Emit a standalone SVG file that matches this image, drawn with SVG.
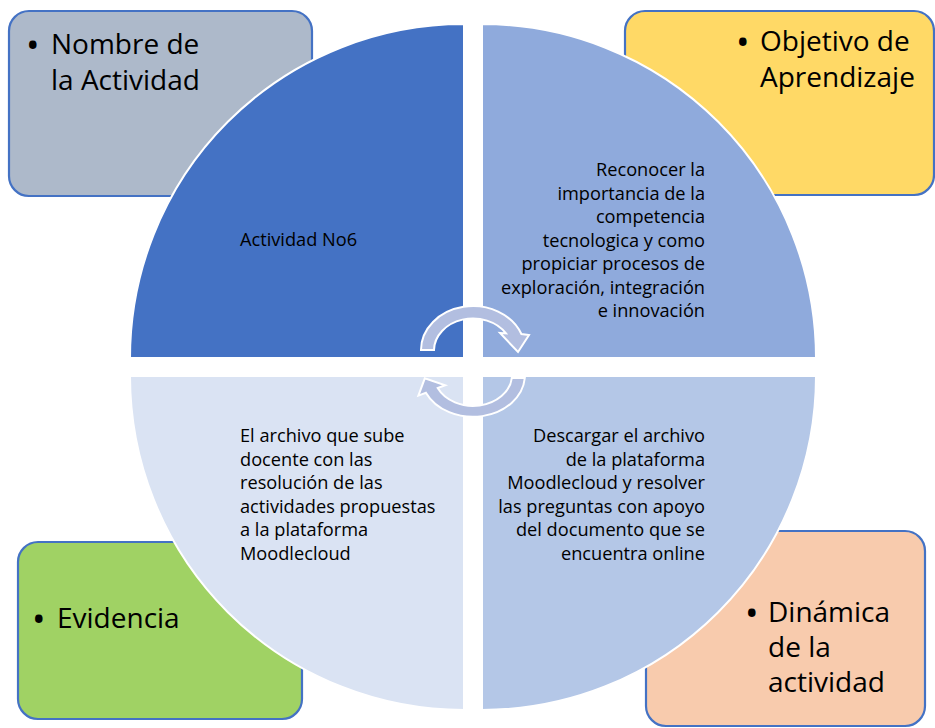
<svg xmlns="http://www.w3.org/2000/svg" width="935" height="728" viewBox="0 0 935 728">
<style>
.box{stroke:#4472C4;stroke-width:2.2}
.quad{stroke:#FFFFFF;stroke-width:2}
.big{font-family:"Open Sans","Noto Sans","Liberation Sans",sans-serif;font-size:28px;fill:#000}
.bul{font-size:36px}
.small{font-family:"Open Sans","Noto Sans","Liberation Sans",sans-serif;font-size:18.2px;fill:#000}
.arrow{fill:#B2BEE0;stroke:#FFFFFF;stroke-width:2;stroke-linejoin:miter}
</style>
<rect width="935" height="728" fill="#FFFFFF"/>
<g id="box-nombre">
<rect class="box" x="9" y="11" width="303" height="185" rx="20" fill="#ADB9CA"/>
<text class="big"><tspan class="bul" x="26" y="58">•</tspan><tspan x="51" y="54">Nombre de</tspan><tspan x="51" y="89.5">la Actividad</tspan></text>
</g>
<g id="box-objetivo">
<rect class="box" x="625" y="11" width="309" height="184" rx="20" fill="#FFD966"/>
<text class="big"><tspan class="bul" x="736" y="55">•</tspan><tspan x="760" y="51">Objetivo de</tspan><tspan x="760" y="86.5">Aprendizaje</tspan></text>
</g>
<g id="box-evidencia">
<rect class="box" x="18" y="542" width="284" height="177" rx="20" fill="#A0D264"/>
<text class="big"><tspan class="bul" x="32" y="632">•</tspan><tspan x="57" y="628">Evidencia</tspan></text>
</g>
<g id="box-dinamica">
<rect class="box" x="646" y="531" width="279" height="195" rx="20" fill="#F8CBAD"/>
<text class="big"><tspan class="bul" x="745" y="626">•</tspan><tspan x="768" y="622">Dinámica</tspan><tspan x="768" y="657">de la</tspan><tspan x="768" y="692">actividad</tspan></text>
</g>
<g id="quad-actividad">
<path class="quad" d="M464 358 L130 358 A334 334 0 0 1 464 24 Z" fill="#4472C4"/>
<text class="small" x="240" y="246">Actividad No6</text>
</g>
<g id="quad-objetivo">
<path class="quad" d="M482 358 L482 24 A334 334 0 0 1 816 358 Z" fill="#8FAADC"/>
<g class="small" text-anchor="end">
<text x="705" y="176">Reconocer la</text>
<text x="705" y="199.5">importancia de la</text>
<text x="705" y="223">competencia</text>
<text x="705" y="246.5">tecnologica y  como</text>
<text x="705" y="270">propiciar procesos de</text>
<text x="705" y="293.5">exploración, integración</text>
<text x="705" y="317">e innovación</text>
</g>
</g>
<g id="quad-evidencia">
<path class="quad" d="M464 376 L130 376 A334 334 0 0 0 464 710 Z" fill="#DAE3F3"/>
<g class="small">
<text x="240" y="442">El archivo que sube</text>
<text x="240" y="465.5">docente con las</text>
<text x="240" y="489">resolución  de las</text>
<text x="240" y="512.5">actividades propuestas</text>
<text x="240" y="536">a la plataforma</text>
<text x="240" y="559.5">Moodlecloud</text>
</g>
</g>
<g id="quad-dinamica">
<path class="quad" d="M482 376 L816 376 A334 334 0 0 1 482 710 Z" fill="#B4C7E7"/>
<g class="small" text-anchor="end">
<text x="705" y="442">Descargar el archivo</text>
<text x="705" y="465.5">de la plataforma</text>
<text x="705" y="489">Moodlecloud y resolver</text>
<text x="705" y="512.5">las preguntas con apoyo</text>
<text x="705" y="536">del documento que se</text>
<text x="705" y="559.5">encuentra online</text>
</g>
</g>
<g id="connectors">
<path class="arrow" d="M421 350 A52 44 0 0 1 521.4 334 L529 335 L518 352 L500 333 L506 333.4 A39 32 0 0 0 434 350 Z"/>
<path class="arrow" d="M524.8 378 A52 42 0 0 1 425.9 392.7 L418.4 395.6 L424.8 378.3 L445.2 385.2 L437.7 388.1 A39 31 0 0 0 511.8 378 Z"/>
</g>
</svg>
